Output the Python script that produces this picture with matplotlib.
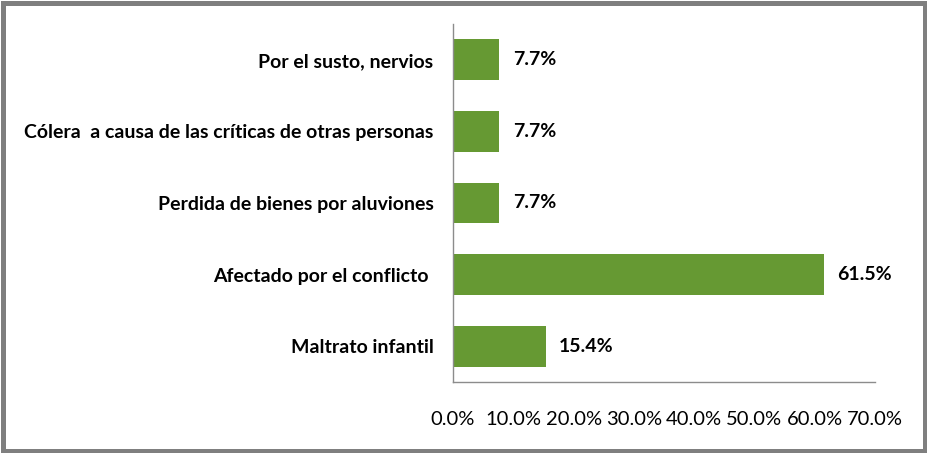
import matplotlib.pyplot as plt
from matplotlib.patches import Rectangle

categorias = ['Maltrato infantil', 'Afectado por el conflicto ', 'Perdida de bienes por aluviones',
              'Cólera  a causa de las críticas de otras personas', 'Por el susto, nervios']
valores = [15.4, 61.5, 7.7, 7.7, 7.7]
ticks = [0, 10, 20, 30, 40, 50, 60, 70]

plt.rcParams['font.family'] = ['Lato', 'DejaVu Sans']

fig = plt.figure(figsize=(9.27, 4.53), dpi=100)
ax = fig.add_axes([453/927, 71/453, 422/927, 358/453])

ax.barh(range(len(valores)), valores, height=0.57, color='#669933')
for i, v in enumerate(valores):
    ax.text(v + 2.2, i, '%.1f%%' % v, va='center', ha='left', fontsize=14, fontweight='bold')

ax.set_xlim(0, 70)
ax.set_ylim(-0.5, 4.5)
ax.set_yticks(range(len(categorias)))
ax.set_yticklabels(categorias, fontsize=14, fontweight='bold')
ax.set_xticks(ticks)
ax.set_xticklabels(['%.1f%%' % t for t in ticks], fontsize=14.5)
ax.tick_params(axis='both', length=0)
ax.tick_params(axis='x', pad=21)
ax.tick_params(axis='y', pad=14)
for s in ['top', 'right']:
    ax.spines[s].set_visible(False)
for s in ['left', 'bottom']:
    ax.spines[s].set_color('#8c8c8c')
    ax.spines[s].set_linewidth(1)

# marco gris
fig.patches.append(Rectangle((2.5/927, 2.5/453), 1 - 5/927, 1 - 5/453, transform=fig.transFigure,
                             fill=False, edgecolor='#7f7f7f', linewidth=3.6))

fig.savefig('out.png', dpi=100)
